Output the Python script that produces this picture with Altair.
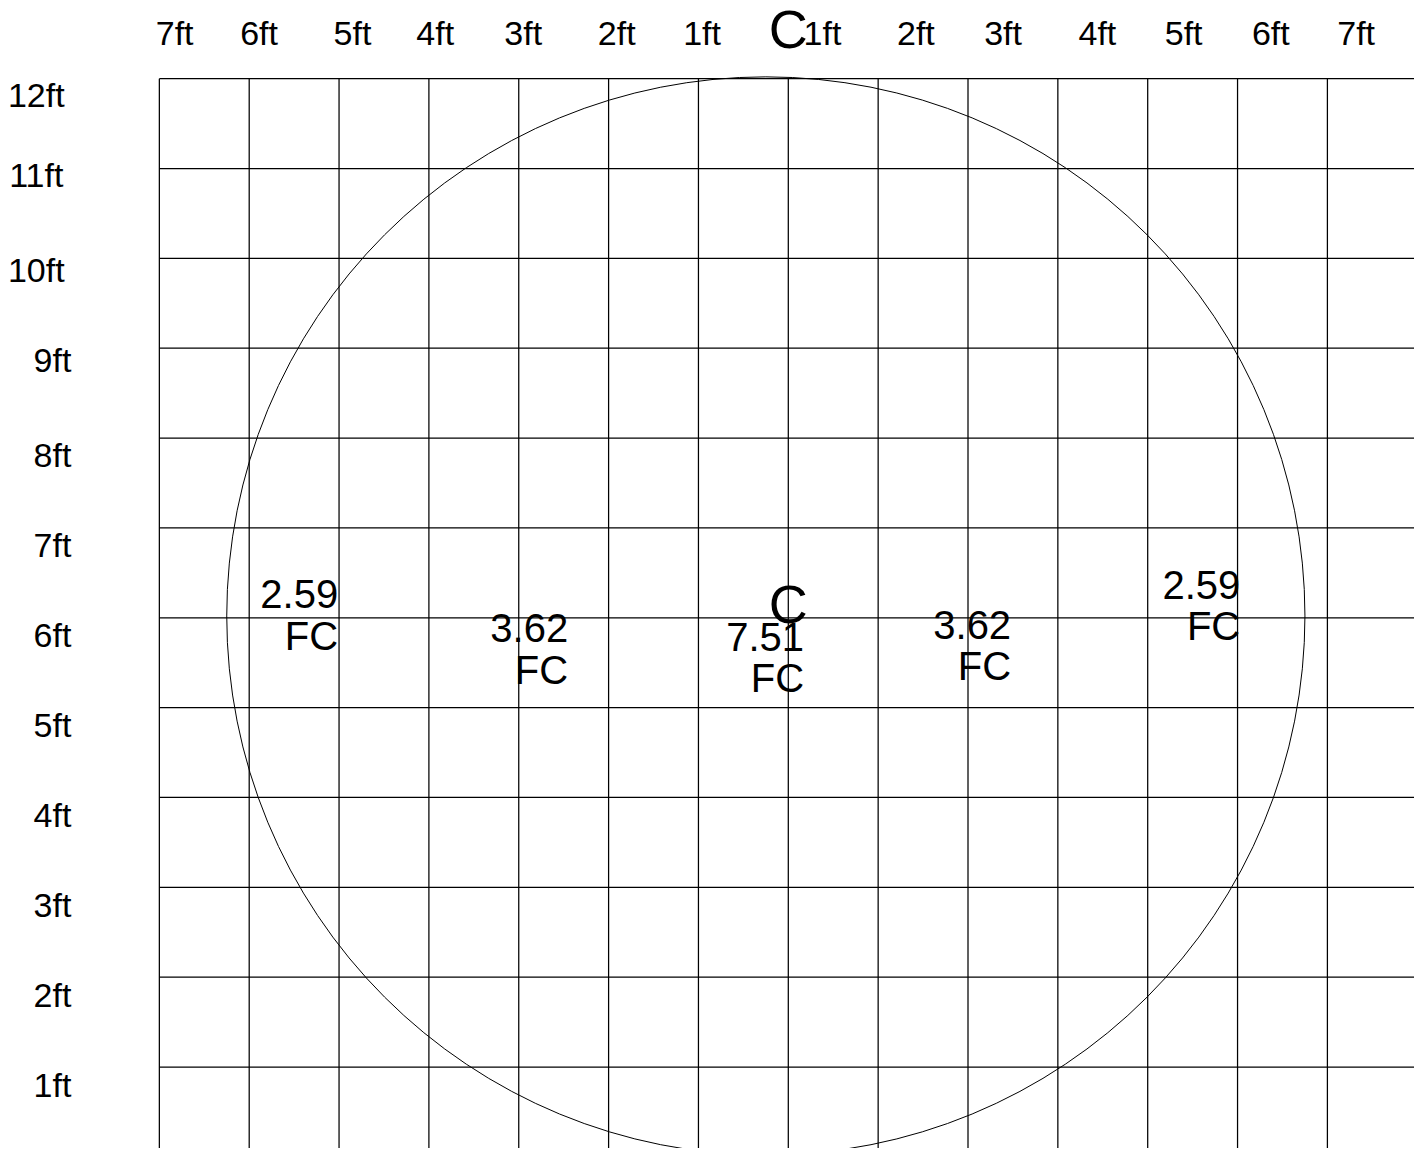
import altair as alt
import pandas as pd

# ---------------- data (feet) ----------------
grid_x_ft = list(range(-7, 8))      # vertical grid lines, 0 = centre line "C"
grid_y_ft = list(range(0, 13))      # horizontal grid lines, 0 = floor

top_labels = ["7ft", "6ft", "5ft", "4ft", "3ft", "2ft", "1ft",
              "1ft", "2ft", "3ft", "4ft", "5ft", "6ft", "7ft"]
top_label_x = [-6.83, -5.89, -4.85, -3.93, -2.95, -1.91, -0.96,
               0.38, 1.42, 2.39, 3.44, 4.40, 5.37, 6.32]
top_label_y = 12.374

left_labels = ["12ft", "11ft", "10ft", "9ft", "8ft", "7ft", "6ft",
               "5ft", "4ft", "3ft", "2ft", "1ft"]
left_label_x = [-8.37, -8.37, -8.37, -8.19, -8.19, -8.19, -8.19,
                -8.19, -8.19, -8.19, -8.19, -8.19]
left_label_y = [11.68, 10.79, 9.74, 8.74, 7.68, 6.68, 5.68,
                4.67, 3.67, 2.67, 1.67, 0.67]

centre_marks = ["C", "C"]
centre_mark_x = [0.0, 0.0]
centre_mark_y = [12.34, 5.947]

circle_cx, circle_cy, circle_r = -0.25, 6.02, 6.0

fc_values = ["2.59", "3.62", "7.51", "3.62", "2.59"]
fc_unit = "FC"
fc_x = [-5.01, -2.45, 0.175, 2.48, 5.03]
fc_y = [6.108, 5.730, 5.630, 5.764, 6.209]

# ---------------- layout ----------------
W, H = 1406, 1140
PPF = 89.85              # pixels per foot
CX = 780.3               # centre line, px from chart left
FY = 1148.85             # floor line, px from chart top

xs = alt.Scale(domain=[-CX / PPF, (W - CX) / PPF], nice=False, zero=False)
ys = alt.Scale(domain=[(FY - H) / PPF, FY / PPF], nice=False, zero=False)

FONT = "Liberation Sans"

vdf = pd.DataFrame({"x": grid_x_ft, "y": min(grid_y_ft), "y2": max(grid_y_ft)})
hdf = pd.DataFrame({"y": grid_y_ft[1:], "x": min(grid_x_ft), "x2": max(grid_x_ft)})

vlines = alt.Chart(vdf).mark_rule(color="black", strokeWidth=1.25, clip=True).encode(
    x=alt.X("x:Q", scale=xs, axis=None),
    y=alt.Y("y:Q", scale=ys, axis=None),
    y2="y2:Q",
)
hlines = alt.Chart(hdf).mark_rule(color="black", strokeWidth=1.25, clip=True).encode(
    x=alt.X("x:Q", scale=xs, axis=None),
    x2="x2:Q",
    y=alt.Y("y:Q", scale=ys, axis=None),
)

cdf = pd.DataFrame({"x": [circle_cx], "y": [circle_cy]})
circle = alt.Chart(cdf).mark_point(
    shape="circle", filled=False, color="black", strokeWidth=1, opacity=1,
    size=(2 * circle_r * PPF) ** 2, clip=True,
).encode(
    x=alt.X("x:Q", scale=xs, axis=None),
    y=alt.Y("y:Q", scale=ys, axis=None),
)

tdf = pd.DataFrame({"t": top_labels, "x": top_label_x, "y": top_label_y})
top_text = alt.Chart(tdf).mark_text(
    font=FONT, fontSize=34, align="center", baseline="alphabetic", color="black"
).encode(
    x=alt.X("x:Q", scale=xs, axis=None),
    y=alt.Y("y:Q", scale=ys, axis=None),
    text="t:N",
)

ldf = pd.DataFrame({"t": left_labels, "x": left_label_x, "y": left_label_y})
left_text = alt.Chart(ldf).mark_text(
    font=FONT, fontSize=34, align="center", baseline="alphabetic", color="black"
).encode(
    x=alt.X("x:Q", scale=xs, axis=None),
    y=alt.Y("y:Q", scale=ys, axis=None),
    text="t:N",
)

mdf = pd.DataFrame({"t": centre_marks, "x": centre_mark_x, "y": centre_mark_y})
centre_text = alt.Chart(mdf).mark_text(
    font=FONT, fontSize=54, align="center", baseline="alphabetic", color="black"
).encode(
    x=alt.X("x:Q", scale=xs, axis=None),
    y=alt.Y("y:Q", scale=ys, axis=None),
    text="t:N",
)

fdf = pd.DataFrame({
    "t": [v + "\n" + fc_unit for v in fc_values],
    "x": fc_x,
    "y": fc_y,
})
fc_text = alt.Chart(fdf).mark_text(
    font=FONT, fontSize=40, align="right", baseline="alphabetic", color="black",
    lineBreak="\n", lineHeight=41.5,
).encode(
    x=alt.X("x:Q", scale=xs, axis=None),
    y=alt.Y("y:Q", scale=ys, axis=None),
    text="t:N",
)

chart = alt.layer(
    vlines, hlines, circle, top_text, left_text, centre_text, fc_text
).properties(
    width=W, height=H, padding=0, autosize="none", background="white"
).configure_view(stroke=None)

chart.save("out.html", embed_options={"renderer": "svg", "actions": False})
